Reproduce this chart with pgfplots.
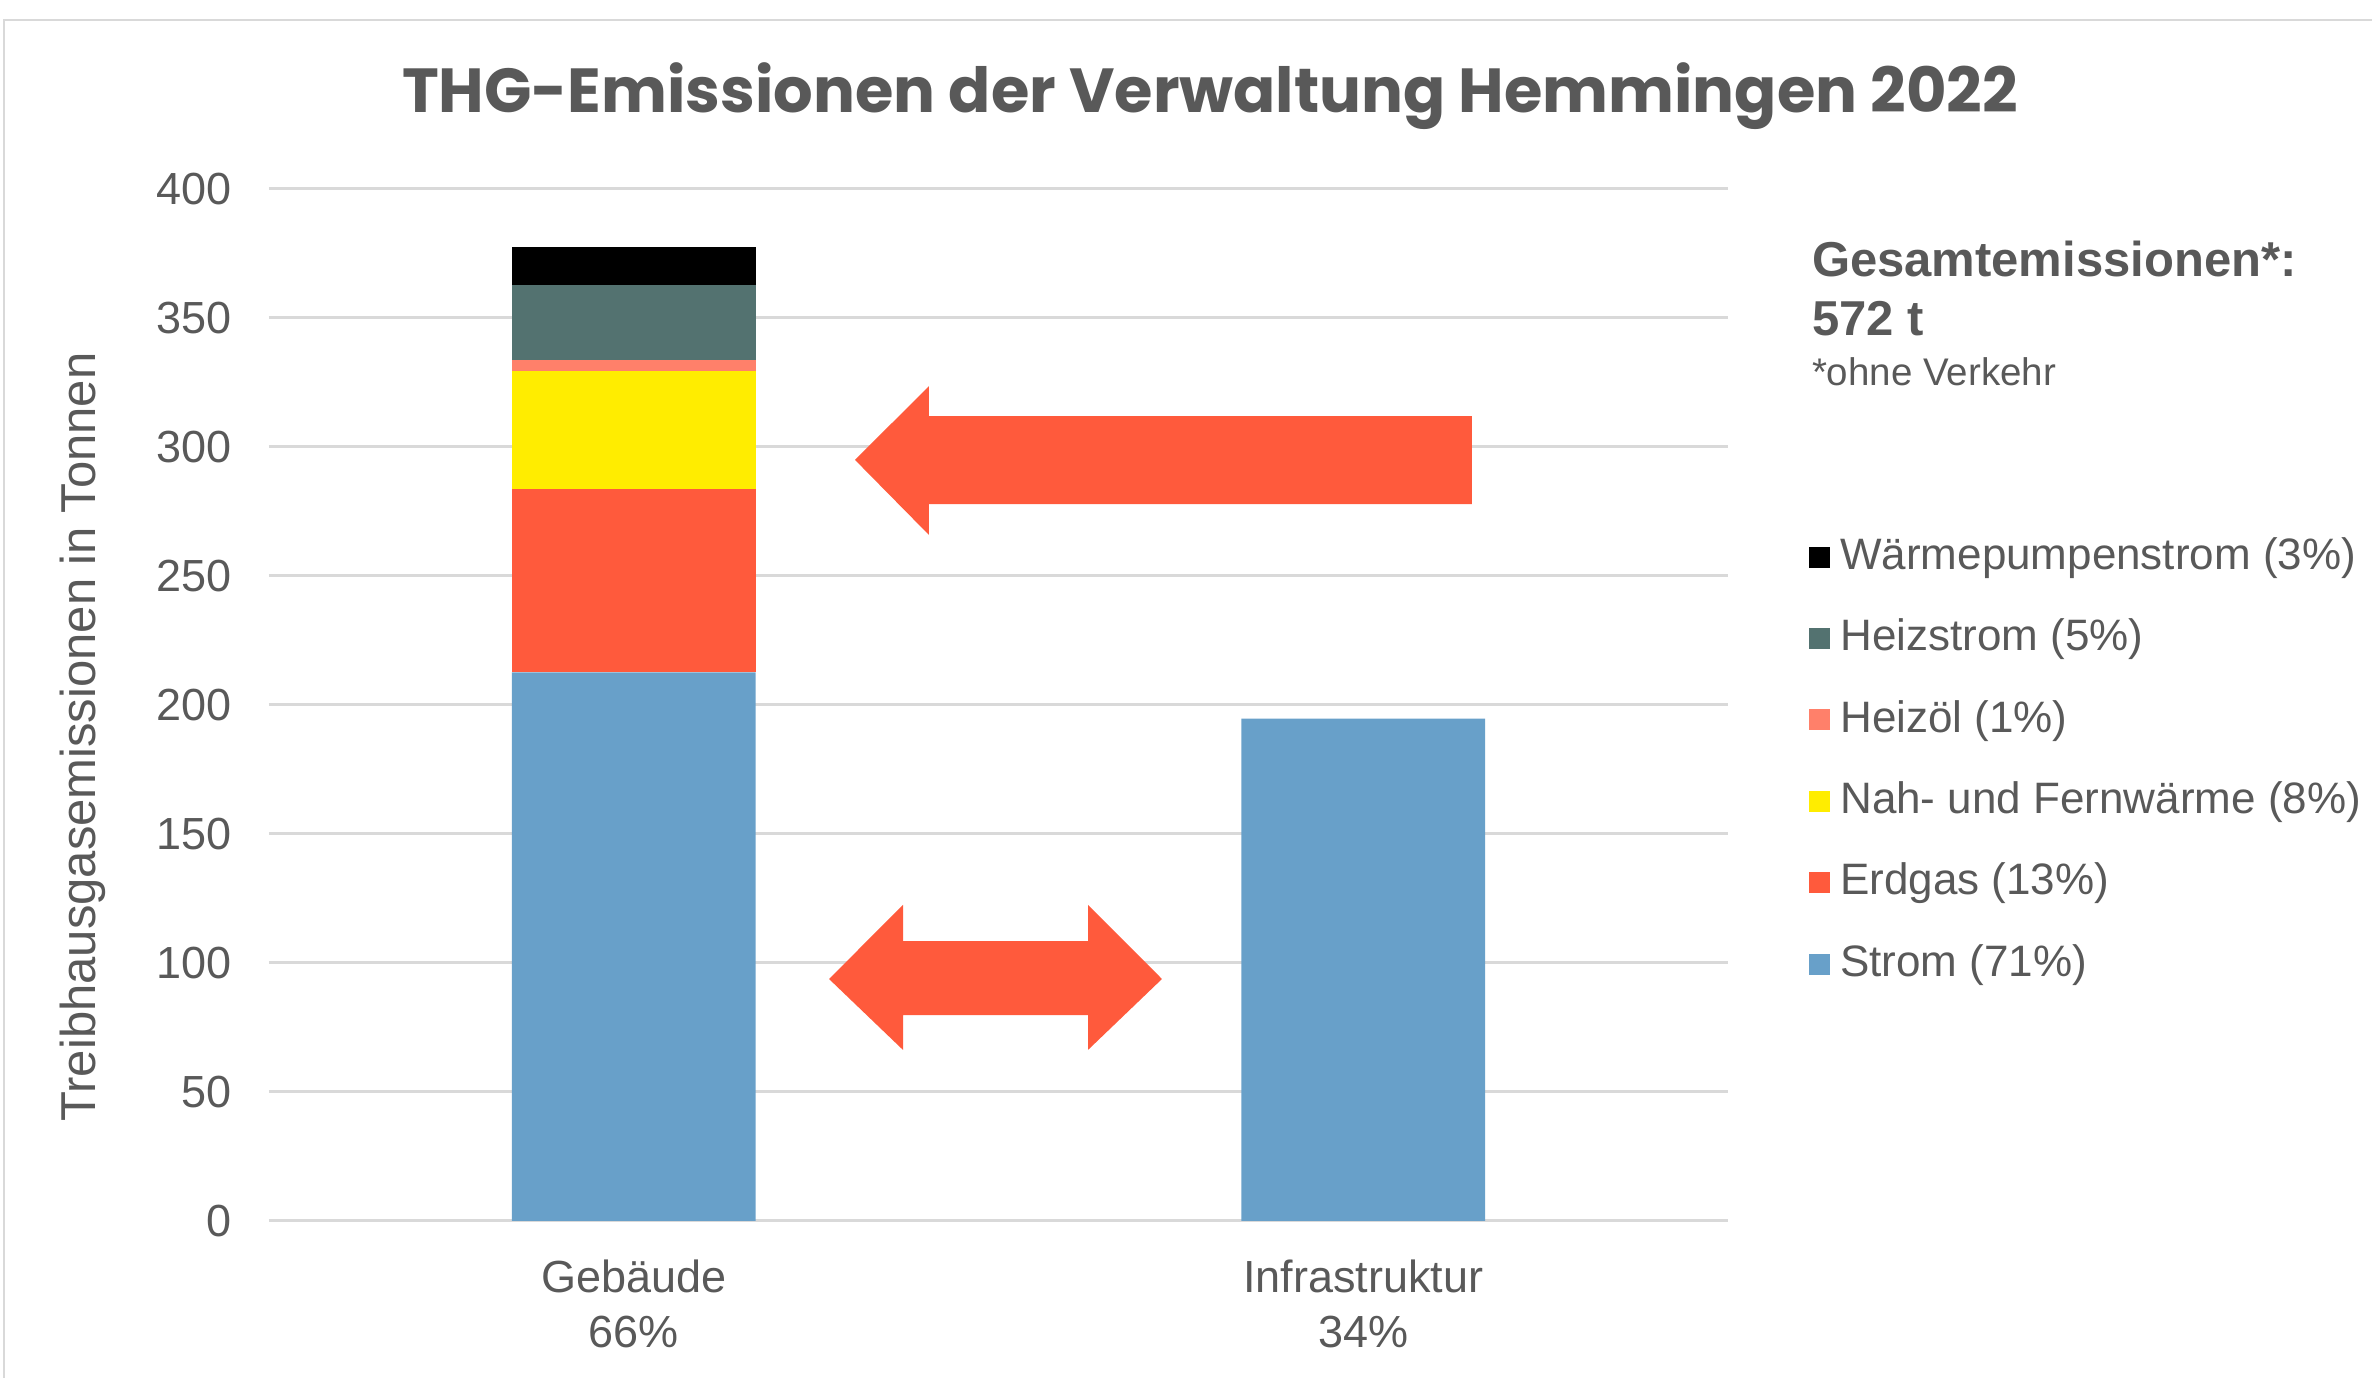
\documentclass[border=0pt]{standalone}
\usepackage{pgfplots}
\pgfplotsset{compat=1.18}
\usepackage{fontspec}
\setmainfont{Liberation Sans}
\newfontfamily\titlefont{Poppins}

\definecolor{txt}{HTML}{595959}
\definecolor{gridc}{HTML}{D9D9D9}
\definecolor{cStrom}{HTML}{68A0C9}
\definecolor{cErdgas}{HTML}{FF5A3C}
\definecolor{cNah}{HTML}{FFED00}
\definecolor{cOel}{HTML}{FF806A}
\definecolor{cHeiz}{HTML}{537270}
\definecolor{cWP}{HTML}{000000}

\begin{document}
\begin{tikzpicture}[x=1pt,y=1pt]
\useasboundingbox (0,0) rectangle (474.4,275.6);
\draw[gridc, line width=0.5pt] (0.8,-10) -- (0.8,271.6) -- (490,271.6);
\begin{axis}[
    at={(53.8pt,31.4pt)}, anchor=south west,
    scale only axis, width=291.8pt, height=206.4pt,
    ybar stacked, bar width=0.334,
    xmin=-0.5, xmax=1.5, ymin=0, ymax=400,
    xtick={0,1},
    xticklabels={{Gebäude\\66\%},{Infrastruktur\\34\%}},
    ytick={0,50,...,400},
    ymajorgrids=true,
    grid style={gridc, line width=0.6pt},
    axis x line=bottom, axis y line=left,
    x axis line style={gridc, line width=0.6pt, -},
    y axis line style={draw=none},
    major tick length=0pt,
    tick style={draw=none},
    /pgf/number format/assume math mode=true,
    ticklabel style={font=\fontsize{9}{11}\selectfont, text=txt},
    xticklabel style={align=center, yshift=-4.2pt},
    yticklabel style={xshift=-4pt},
    ylabel={Treibhausgasemissionen in Tonnen},
    ylabel style={at={(axis description cs:-0.1275,0.469)}, anchor=center,
        font=\fontsize{9.8}{11}\selectfont, text=txt},
    clip=false,
    axis on top=false,
    reverse legend,
    legend cell align=left,
    every axis plot/.append style={draw=none,
        legend image code/.code={\fill[##1] (0pt,-2.1pt) rectangle (4.2pt,2.1pt);}},
    legend style={at={(axis description cs:1.055,0.673)}, anchor=north west,
        draw=none, fill=none, inner sep=0pt, row sep=4.4pt,
        font=\fontsize{8.8}{10.5}\selectfont, text=txt,
        nodes={inner sep=2pt}},
]
\addplot[fill=cStrom] coordinates {(0,212.6) (1,194.7)};
\addplot[fill=cErdgas] coordinates {(0,71.0) (1,0)};
\addplot[fill=cNah] coordinates {(0,45.9) (1,0)};
\addplot[fill=cOel] coordinates {(0,4.1) (1,0)};
\addplot[fill=cHeiz] coordinates {(0,29.1) (1,0)};
\addplot[fill=cWP] coordinates {(0,14.8) (1,0)};
\legend{Strom (71\%), Erdgas (13\%), Nah- und Fernwärme (8\%), Heizöl (1\%), Heizstrom (5\%), Wärmepumpenstrom (3\%)}

\fill[cErdgas] (axis cs:0.3033,295) -- (axis cs:0.4047,323.6) -- (axis cs:0.4047,312)
  -- (axis cs:1.149,312) -- (axis cs:1.149,277.9) -- (axis cs:0.4047,277.9)
  -- (axis cs:0.4047,265.9) -- cycle;
\fill[cErdgas] (axis cs:0.2677,93.8) -- (axis cs:0.3691,122.5) -- (axis cs:0.3691,108.5)
  -- (axis cs:0.6227,108.5) -- (axis cs:0.6227,122.5) -- (axis cs:0.7241,93.8)
  -- (axis cs:0.6227,66.3) -- (axis cs:0.6227,79.8) -- (axis cs:0.3691,79.8)
  -- (axis cs:0.3691,66.3) -- cycle;
\end{axis}
\node[anchor=base, text=txt, font=\titlefont\bfseries\fontsize{12.45}{14}\selectfont]
  at (242,253) {THG-Emissionen der Verwaltung Hemmingen 2022};
\node[anchor=base west, inner sep=0pt, text=txt, font=\bfseries\fontsize{9.8}{11}\selectfont]
  at (362.2,220.2) {Gesamtemissionen*:};
\node[anchor=base west, inner sep=0pt, text=txt, font=\bfseries\fontsize{9.8}{11}\selectfont]
  at (362.2,208.4) {572 t};
\node[anchor=base west, inner sep=0pt, text=txt, font=\fontsize{7.7}{10}\selectfont]
  at (362.2,198.4) {*ohne Verkehr};
\end{tikzpicture}
\end{document}
